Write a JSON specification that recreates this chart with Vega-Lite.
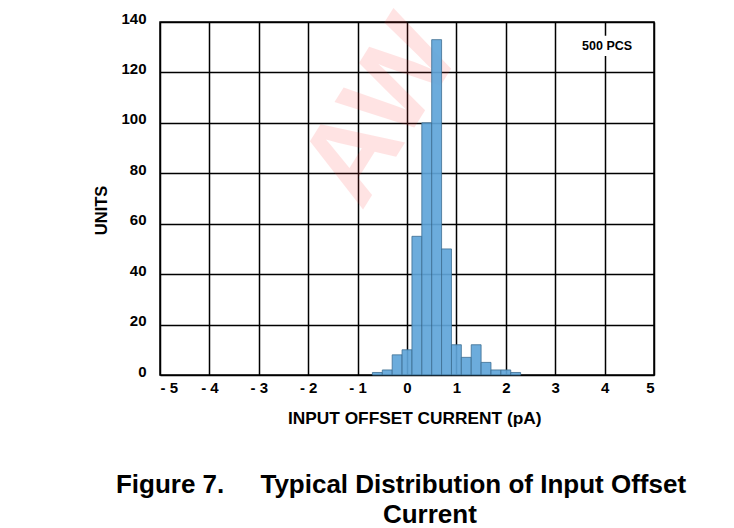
{
  "$schema": "https://vega.github.io/schema/vega-lite/v6.json",
  "width": 494,
  "height": 353,
  "autosize": "none",
  "padding": {"left": 160, "top": 22, "right": 80, "bottom": 153},
  "background": "white",
  "title": {
    "text": ["Figure 7.\u00a0\u00a0\u00a0\u00a0 Typical Distribution of Input Offset", "\u200b\u00a0\u00a0\u00a0\u00a0\u00a0\u00a0\u00a0\u00a0Current"],
    "orient": "bottom",
    "anchor": "middle",
    "font": "Liberation Sans",
    "fontSize": 26,
    "fontWeight": "bold",
    "color": "black",
    "lineHeight": 30,
    "offset": 46,
    "dx": -6
  },
  "config": {
    "view": {"stroke": "black", "strokeWidth": 1.5},
    "axis": {
      "grid": true,
      "gridColor": "black",
      "gridWidth": 1.5,
      "gridOpacity": 1,
      "domain": false,
      "ticks": false,
      "labelFont": "Liberation Sans",
      "labelFontWeight": "bold",
      "labelFontSize": 15,
      "labelColor": "black",
      "titleFont": "Liberation Sans",
      "titleFontWeight": "bold",
      "titleFontSize": 17.3,
      "titleColor": "black"
    }
  },
  "datasets": {
    "bins": [
      {"lo": -0.7, "hi": -0.5, "units": 1},
      {"lo": -0.5, "hi": -0.3, "units": 2},
      {"lo": -0.3, "hi": -0.1, "units": 8},
      {"lo": -0.1, "hi": 0.1, "units": 10},
      {"lo": 0.1, "hi": 0.3, "units": 55},
      {"lo": 0.3, "hi": 0.5, "units": 100},
      {"lo": 0.5, "hi": 0.7, "units": 133},
      {"lo": 0.7, "hi": 0.9, "units": 50},
      {"lo": 0.9, "hi": 1.1, "units": 12},
      {"lo": 1.1, "hi": 1.3, "units": 7},
      {"lo": 1.3, "hi": 1.5, "units": 12},
      {"lo": 1.5, "hi": 1.7, "units": 5},
      {"lo": 1.7, "hi": 1.9, "units": 2},
      {"lo": 1.9, "hi": 2.1, "units": 2},
      {"lo": 2.1, "hi": 2.3, "units": 1}
    ],
    "note": [{"x": 4.05, "y": 130.5, "x1": 3.6, "x2": 4.55, "y1": 126.5, "y2": 134.5, "label": "500 PCS"}],
    "mark": [{"x": -0.5, "y": 104, "label": "AW"}]
  },
  "layer": [
    {
      "data": {"name": "mark"},
      "mark": {"type": "text", "font": "Liberation Sans", "fontWeight": "bold", "fontSize": 118, "angle": -58, "color": "#ff3030", "opacity": 0.13, "align": "center", "baseline": "middle"},
      "encoding": {
        "x": {"field": "x", "type": "quantitative"},
        "y": {"field": "y", "type": "quantitative"},
        "text": {"field": "label"}
      }
    },
    {
      "data": {"name": "bins"},
      "mark": {"type": "rect", "fill": "#5fa5d9", "fillOpacity": 0.92, "stroke": "#3d6e92", "strokeWidth": 1, "strokeOpacity": 0.8},
      "encoding": {
        "x": {
          "field": "lo", "type": "quantitative",
          "scale": {"domain": [-5, 5], "nice": false, "zero": false},
          "axis": {
            "values": [-5, -4, -3, -2, -1, 0, 1, 2, 3, 4, 5],
            "labelExpr": "datum.value < 0 ? '- ' + abs(datum.value) : datum.label",
            "labelPadding": 5,
            "title": "\u200b\u00a0\u00a0\u00a0INPUT OFFSET CURRENT (pA)",
            "titlePadding": 14
          }
        },
        "x2": {"field": "hi"},
        "y": {
          "field": "units", "type": "quantitative",
          "scale": {"domain": [0, 140], "nice": false},
          "axis": {
            "values": [0, 20, 40, 60, 80, 100, 120, 140],
            "labelPadding": 14,
            "labelOffset": -4,
            "title": "UNITS\u00a0\u00a0\u00a0\u00a0\u00a0\u200b",
            "titleFontSize": 16.5,
            "titlePadding": 11
          }
        },
        "y2": {"datum": 0}
      }
    },
    {
      "data": {"name": "note"},
      "mark": {"type": "rect", "fill": "white"},
      "encoding": {
        "x": {"field": "x1", "type": "quantitative"},
        "x2": {"field": "x2"},
        "y": {"field": "y1", "type": "quantitative"},
        "y2": {"field": "y2"}
      }
    },
    {
      "data": {"name": "note"},
      "mark": {"type": "text", "font": "Liberation Sans", "fontWeight": "bold", "fontSize": 12.5, "color": "black"},
      "encoding": {
        "x": {"field": "x", "type": "quantitative"},
        "y": {"field": "y", "type": "quantitative"},
        "text": {"field": "label"}
      }
    }
  ]
}
